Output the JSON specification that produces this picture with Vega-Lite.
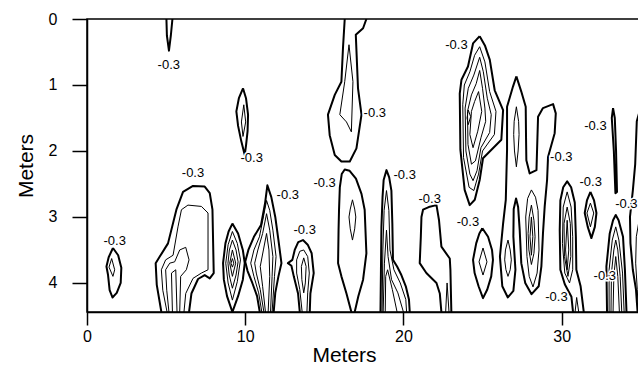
{
  "$schema": "https://vega.github.io/schema/vega-lite/v6.json",
  "width": 580,
  "height": 293,
  "autosize": {"type": "none"},
  "padding": {"left": 87, "top": 19, "right": 0, "bottom": 54},
  "background": "white",
  "config": {
    "font": "Liberation Sans",
    "view": {"stroke": "black", "strokeWidth": 1.5}
  },
  "datasets": {
    "contours": [
      {"c":"f1a","lv":-0.3,"x":1.64,"y":3.47},{"c":"f1a","lv":-0.3,"x":1.97,"y":3.58},{"c":"f1a","lv":-0.3,"x":2.17,"y":3.77},{"c":"f1a","lv":-0.3,"x":2.13,"y":4.0},{"c":"f1a","lv":-0.3,"x":1.88,"y":4.15},{"c":"f1a","lv":-0.3,"x":1.61,"y":4.22},{"c":"f1a","lv":-0.3,"x":1.43,"y":4.11},{"c":"f1a","lv":-0.3,"x":1.33,"y":3.88},{"c":"f1a","lv":-0.3,"x":1.23,"y":3.75},{"c":"f1a","lv":-0.3,"x":1.37,"y":3.61},{"c":"f1a","lv":-0.3,"x":1.64,"y":3.47},
      {"c":"f1b","lv":-0.5,"x":1.56,"y":3.63},{"c":"f1b","lv":-0.5,"x":1.75,"y":3.8},{"c":"f1b","lv":-0.5,"x":1.64,"y":3.9},{"c":"f1b","lv":-0.5,"x":1.39,"y":3.76},{"c":"f1b","lv":-0.5,"x":1.56,"y":3.63},

      {"c":"f2a","lv":-0.3,"x":4.70,"y":4.44},{"c":"f2a","lv":-0.3,"x":4.41,"y":4.03},{"c":"f2a","lv":-0.3,"x":4.34,"y":3.70},{"c":"f2a","lv":-0.3,"x":4.60,"y":3.60},{"c":"f2a","lv":-0.3,"x":5.12,"y":3.40},{"c":"f2a","lv":-0.3,"x":5.65,"y":2.89},{"c":"f2a","lv":-0.3,"x":6.07,"y":2.62},{"c":"f2a","lv":-0.3,"x":6.70,"y":2.53},{"c":"f2a","lv":-0.3,"x":7.44,"y":2.54},{"c":"f2a","lv":-0.3,"x":7.76,"y":2.64},{"c":"f2a","lv":-0.3,"x":7.93,"y":2.89},{"c":"f2a","lv":-0.3,"x":8.01,"y":3.85},{"c":"f2a","lv":-0.3,"x":7.76,"y":3.93},{"c":"f2a","lv":-0.3,"x":7.44,"y":3.88},{"c":"f2a","lv":-0.3,"x":7.02,"y":3.94},{"c":"f2a","lv":-0.3,"x":6.60,"y":4.16},{"c":"f2a","lv":-0.3,"x":6.45,"y":4.44},
      {"c":"f2b","lv":-0.5,"x":5.06,"y":4.44},{"c":"f2b","lv":-0.5,"x":4.79,"y":4.11},{"c":"f2b","lv":-0.5,"x":4.70,"y":3.80},{"c":"f2b","lv":-0.5,"x":4.97,"y":3.65},{"c":"f2b","lv":-0.5,"x":5.44,"y":3.58},{"c":"f2b","lv":-0.5,"x":5.75,"y":3.15},{"c":"f2b","lv":-0.5,"x":5.97,"y":2.89},{"c":"f2b","lv":-0.5,"x":6.38,"y":2.82},{"c":"f2b","lv":-0.5,"x":7.23,"y":2.84},{"c":"f2b","lv":-0.5,"x":7.65,"y":2.94},{"c":"f2b","lv":-0.5,"x":7.65,"y":3.80},{"c":"f2b","lv":-0.5,"x":7.23,"y":3.85},{"c":"f2b","lv":-0.5,"x":6.70,"y":3.93},{"c":"f2b","lv":-0.5,"x":6.24,"y":4.16},{"c":"f2b","lv":-0.5,"x":6.13,"y":4.44},
      {"c":"f2c","lv":-0.7,"x":5.18,"y":4.44},{"c":"f2c","lv":-0.7,"x":5.04,"y":4.11},{"c":"f2c","lv":-0.7,"x":4.97,"y":3.80},{"c":"f2c","lv":-0.7,"x":5.23,"y":3.70},{"c":"f2c","lv":-0.7,"x":5.54,"y":3.68},{"c":"f2c","lv":-0.7,"x":5.86,"y":3.50},{"c":"f2c","lv":-0.7,"x":6.24,"y":3.46},{"c":"f2c","lv":-0.7,"x":6.45,"y":3.65},{"c":"f2c","lv":-0.7,"x":6.28,"y":3.80},{"c":"f2c","lv":-0.7,"x":5.92,"y":3.90},{"c":"f2c","lv":-0.7,"x":5.86,"y":4.44},
      {"c":"f2d","lv":-0.9,"x":5.40,"y":4.44},{"c":"f2d","lv":-0.9,"x":5.34,"y":3.85},{"c":"f2d","lv":-0.9,"x":5.61,"y":3.80},{"c":"f2d","lv":-0.9,"x":5.69,"y":4.44},

      {"c":"f3a","lv":-0.3,"x":9.19,"y":3.10},{"c":"f3a","lv":-0.3,"x":9.55,"y":3.25},{"c":"f3a","lv":-0.3,"x":9.85,"y":3.50},{"c":"f3a","lv":-0.3,"x":9.97,"y":3.70},{"c":"f3a","lv":-0.3,"x":9.85,"y":3.95},{"c":"f3a","lv":-0.3,"x":9.55,"y":4.20},{"c":"f3a","lv":-0.3,"x":9.19,"y":4.44},{"c":"f3a","lv":-0.3,"x":8.85,"y":4.20},{"c":"f3a","lv":-0.3,"x":8.65,"y":3.95},{"c":"f3a","lv":-0.3,"x":8.60,"y":3.70},{"c":"f3a","lv":-0.3,"x":8.75,"y":3.40},{"c":"f3a","lv":-0.3,"x":8.95,"y":3.22},{"c":"f3a","lv":-0.3,"x":9.19,"y":3.10},
      {"c":"f3b","lv":-0.5,"x":9.19,"y":3.22},{"c":"f3b","lv":-0.5,"x":9.50,"y":3.40},{"c":"f3b","lv":-0.5,"x":9.70,"y":3.65},{"c":"f3b","lv":-0.5,"x":9.50,"y":3.98},{"c":"f3b","lv":-0.5,"x":9.19,"y":4.26},{"c":"f3b","lv":-0.5,"x":8.92,"y":4.00},{"c":"f3b","lv":-0.5,"x":8.77,"y":3.70},{"c":"f3b","lv":-0.5,"x":8.92,"y":3.42},{"c":"f3b","lv":-0.5,"x":9.19,"y":3.22},
      {"c":"f3c","lv":-0.7,"x":9.19,"y":3.35},{"c":"f3c","lv":-0.7,"x":9.42,"y":3.50},{"c":"f3c","lv":-0.7,"x":9.55,"y":3.68},{"c":"f3c","lv":-0.7,"x":9.42,"y":3.88},{"c":"f3c","lv":-0.7,"x":9.19,"y":4.08},{"c":"f3c","lv":-0.7,"x":8.99,"y":3.88},{"c":"f3c","lv":-0.7,"x":8.91,"y":3.70},{"c":"f3c","lv":-0.7,"x":9.00,"y":3.50},{"c":"f3c","lv":-0.7,"x":9.19,"y":3.35},
      {"c":"f3d","lv":-0.9,"x":9.19,"y":3.50},{"c":"f3d","lv":-0.9,"x":9.40,"y":3.70},{"c":"f3d","lv":-0.9,"x":9.19,"y":3.90},{"c":"f3d","lv":-0.9,"x":9.02,"y":3.70},{"c":"f3d","lv":-0.9,"x":9.19,"y":3.50},
      {"c":"f3e","lv":-1.1,"x":9.19,"y":3.63},{"c":"f3e","lv":-1.1,"x":9.28,"y":3.70},{"c":"f3e","lv":-1.1,"x":9.19,"y":3.76},{"c":"f3e","lv":-1.1,"x":9.10,"y":3.70},{"c":"f3e","lv":-1.1,"x":9.19,"y":3.63},

      {"c":"f4a","lv":-0.3,"x":10.92,"y":4.44},{"c":"f4a","lv":-0.3,"x":10.75,"y":4.2},{"c":"f4a","lv":-0.3,"x":10.45,"y":4.0},{"c":"f4a","lv":-0.3,"x":10.15,"y":3.82},{"c":"f4a","lv":-0.3,"x":10.0,"y":3.68},{"c":"f4a","lv":-0.3,"x":10.2,"y":3.5},{"c":"f4a","lv":-0.3,"x":10.55,"y":3.3},{"c":"f4a","lv":-0.3,"x":11.0,"y":3.12},{"c":"f4a","lv":-0.3,"x":11.25,"y":2.8},{"c":"f4a","lv":-0.3,"x":11.40,"y":2.52},{"c":"f4a","lv":-0.3,"x":11.65,"y":2.7},{"c":"f4a","lv":-0.3,"x":11.9,"y":3.0},{"c":"f4a","lv":-0.3,"x":12.1,"y":3.35},{"c":"f4a","lv":-0.3,"x":12.29,"y":3.70},{"c":"f4a","lv":-0.3,"x":12.1,"y":3.9},{"c":"f4a","lv":-0.3,"x":11.9,"y":4.15},{"c":"f4a","lv":-0.3,"x":11.80,"y":4.44},
      {"c":"f4b","lv":-0.5,"x":11.05,"y":4.44},{"c":"f4b","lv":-0.5,"x":10.85,"y":4.15},{"c":"f4b","lv":-0.5,"x":10.55,"y":3.9},{"c":"f4b","lv":-0.5,"x":10.35,"y":3.7},{"c":"f4b","lv":-0.5,"x":10.55,"y":3.5},{"c":"f4b","lv":-0.5,"x":10.9,"y":3.3},{"c":"f4b","lv":-0.5,"x":11.15,"y":3.0},{"c":"f4b","lv":-0.5,"x":11.35,"y":2.75},{"c":"f4b","lv":-0.5,"x":11.55,"y":2.9},{"c":"f4b","lv":-0.5,"x":11.75,"y":3.2},{"c":"f4b","lv":-0.5,"x":11.95,"y":3.6},{"c":"f4b","lv":-0.5,"x":11.85,"y":3.9},{"c":"f4b","lv":-0.5,"x":11.7,"y":4.44},
      {"c":"f4c","lv":-0.7,"x":11.18,"y":4.44},{"c":"f4c","lv":-0.7,"x":10.95,"y":4.1},{"c":"f4c","lv":-0.7,"x":10.7,"y":3.85},{"c":"f4c","lv":-0.7,"x":10.6,"y":3.7},{"c":"f4c","lv":-0.7,"x":10.8,"y":3.5},{"c":"f4c","lv":-0.7,"x":11.1,"y":3.25},{"c":"f4c","lv":-0.7,"x":11.35,"y":2.95},{"c":"f4c","lv":-0.7,"x":11.55,"y":3.2},{"c":"f4c","lv":-0.7,"x":11.75,"y":3.6},{"c":"f4c","lv":-0.7,"x":11.7,"y":3.9},{"c":"f4c","lv":-0.7,"x":11.6,"y":4.44},
      {"c":"f4d","lv":-0.9,"x":11.28,"y":4.44},{"c":"f4d","lv":-0.9,"x":11.1,"y":4.05},{"c":"f4d","lv":-0.9,"x":10.95,"y":3.75},{"c":"f4d","lv":-0.9,"x":11.15,"y":3.5},{"c":"f4d","lv":-0.9,"x":11.35,"y":3.25},{"c":"f4d","lv":-0.9,"x":11.5,"y":3.5},{"c":"f4d","lv":-0.9,"x":11.55,"y":3.9},{"c":"f4d","lv":-0.9,"x":11.45,"y":4.44},

      {"c":"f5a","lv":-0.3,"x":13.45,"y":4.44},{"c":"f5a","lv":-0.3,"x":13.34,"y":4.16},{"c":"f5a","lv":-0.3,"x":13.07,"y":3.90},{"c":"f5a","lv":-0.3,"x":12.92,"y":3.74},{"c":"f5a","lv":-0.3,"x":12.70,"y":3.70},{"c":"f5a","lv":-0.3,"x":12.98,"y":3.65},{"c":"f5a","lv":-0.3,"x":13.13,"y":3.50},{"c":"f5a","lv":-0.3,"x":13.35,"y":3.38},{"c":"f5a","lv":-0.3,"x":13.65,"y":3.35},{"c":"f5a","lv":-0.3,"x":13.95,"y":3.42},{"c":"f5a","lv":-0.3,"x":14.20,"y":3.55},{"c":"f5a","lv":-0.3,"x":14.33,"y":3.85},{"c":"f5a","lv":-0.3,"x":14.12,"y":4.16},{"c":"f5a","lv":-0.3,"x":14.08,"y":4.44},
      {"c":"f5b","lv":-0.5,"x":13.6,"y":4.44},{"c":"f5b","lv":-0.5,"x":13.45,"y":4.1},{"c":"f5b","lv":-0.5,"x":13.25,"y":3.85},{"c":"f5b","lv":-0.5,"x":13.25,"y":3.65},{"c":"f5b","lv":-0.5,"x":13.45,"y":3.52},{"c":"f5b","lv":-0.5,"x":13.7,"y":3.5},{"c":"f5b","lv":-0.5,"x":13.95,"y":3.6},{"c":"f5b","lv":-0.5,"x":14.05,"y":3.85},{"c":"f5b","lv":-0.5,"x":13.95,"y":4.15},{"c":"f5b","lv":-0.5,"x":13.9,"y":4.44},
      {"c":"f5c","lv":-0.7,"x":13.7,"y":3.62},{"c":"f5c","lv":-0.7,"x":13.85,"y":3.75},{"c":"f5c","lv":-0.7,"x":13.8,"y":4.0},{"c":"f5c","lv":-0.7,"x":13.7,"y":4.15},{"c":"f5c","lv":-0.7,"x":13.58,"y":3.95},{"c":"f5c","lv":-0.7,"x":13.55,"y":3.75},{"c":"f5c","lv":-0.7,"x":13.7,"y":3.62},

      {"c":"f6a","lv":-0.3,"x":16.71,"y":4.44},{"c":"f6a","lv":-0.3,"x":16.40,"y":4.16},{"c":"f6a","lv":-0.3,"x":16.08,"y":3.90},{"c":"f6a","lv":-0.3,"x":15.87,"y":3.70},{"c":"f6a","lv":-0.3,"x":15.9,"y":3.2},{"c":"f6a","lv":-0.3,"x":15.93,"y":2.89},{"c":"f6a","lv":-0.3,"x":15.98,"y":2.55},{"c":"f6a","lv":-0.3,"x":16.1,"y":2.35},{"c":"f6a","lv":-0.3,"x":16.29,"y":2.28},{"c":"f6a","lv":-0.3,"x":16.6,"y":2.3},{"c":"f6a","lv":-0.3,"x":17.0,"y":2.42},{"c":"f6a","lv":-0.3,"x":17.35,"y":2.65},{"c":"f6a","lv":-0.3,"x":17.55,"y":2.89},{"c":"f6a","lv":-0.3,"x":17.66,"y":3.55},{"c":"f6a","lv":-0.3,"x":17.45,"y":3.95},{"c":"f6a","lv":-0.3,"x":17.15,"y":4.2},{"c":"f6a","lv":-0.3,"x":16.92,"y":4.44},
      {"c":"f6b","lv":-0.5,"x":16.78,"y":2.74},{"c":"f6b","lv":-0.5,"x":16.92,"y":2.88},{"c":"f6b","lv":-0.5,"x":16.99,"y":3.0},{"c":"f6b","lv":-0.5,"x":16.92,"y":3.18},{"c":"f6b","lv":-0.5,"x":16.78,"y":3.35},{"c":"f6b","lv":-0.5,"x":16.64,"y":3.18},{"c":"f6b","lv":-0.5,"x":16.56,"y":3.0},{"c":"f6b","lv":-0.5,"x":16.64,"y":2.88},{"c":"f6b","lv":-0.5,"x":16.78,"y":2.74},

      {"c":"f7a","lv":-0.3,"x":16.29,"y":0},{"c":"f7a","lv":-0.3,"x":16.18,"y":0.44},{"c":"f7a","lv":-0.3,"x":16.08,"y":0.95},{"c":"f7a","lv":-0.3,"x":15.66,"y":1.15},{"c":"f7a","lv":-0.3,"x":15.23,"y":1.45},{"c":"f7a","lv":-0.3,"x":15.34,"y":1.76},{"c":"f7a","lv":-0.3,"x":15.66,"y":2.06},{"c":"f7a","lv":-0.3,"x":16.08,"y":2.16},{"c":"f7a","lv":-0.3,"x":16.61,"y":2.16},{"c":"f7a","lv":-0.3,"x":17.03,"y":1.96},{"c":"f7a","lv":-0.3,"x":17.35,"y":1.45},{"c":"f7a","lv":-0.3,"x":17.13,"y":1.05},{"c":"f7a","lv":-0.3,"x":16.99,"y":0.24},{"c":"f7a","lv":-0.3,"x":17.45,"y":0.14},{"c":"f7a","lv":-0.3,"x":17.66,"y":0},
      {"c":"f7b","lv":-0.5,"x":16.56,"y":0.39},{"c":"f7b","lv":-0.5,"x":16.81,"y":0.95},{"c":"f7b","lv":-0.5,"x":16.71,"y":1.71},{"c":"f7b","lv":-0.5,"x":16.40,"y":1.56},{"c":"f7b","lv":-0.5,"x":15.98,"y":1.45},{"c":"f7b","lv":-0.5,"x":16.29,"y":0.95},{"c":"f7b","lv":-0.5,"x":16.56,"y":0.39},

      {"c":"f8a","lv":-0.3,"x":5.02,"y":0},{"c":"f8a","lv":-0.3,"x":5.05,"y":0.25},{"c":"f8a","lv":-0.3,"x":5.18,"y":0.48},{"c":"f8a","lv":-0.3,"x":5.30,"y":0.25},{"c":"f8a","lv":-0.3,"x":5.40,"y":0},

      {"c":"f9a","lv":-0.3,"x":9.86,"y":1.05},{"c":"f9a","lv":-0.3,"x":10.05,"y":1.2},{"c":"f9a","lv":-0.3,"x":10.18,"y":1.45},{"c":"f9a","lv":-0.3,"x":10.15,"y":1.7},{"c":"f9a","lv":-0.3,"x":10.05,"y":1.92},{"c":"f9a","lv":-0.3,"x":9.97,"y":2.06},{"c":"f9a","lv":-0.3,"x":9.75,"y":1.85},{"c":"f9a","lv":-0.3,"x":9.55,"y":1.62},{"c":"f9a","lv":-0.3,"x":9.44,"y":1.40},{"c":"f9a","lv":-0.3,"x":9.6,"y":1.2},{"c":"f9a","lv":-0.3,"x":9.86,"y":1.05},
      {"c":"f9b","lv":-0.5,"x":9.91,"y":1.30},{"c":"f9b","lv":-0.5,"x":10.03,"y":1.56},{"c":"f9b","lv":-0.5,"x":9.86,"y":1.78},{"c":"f9b","lv":-0.5,"x":9.76,"y":1.56},{"c":"f9b","lv":-0.5,"x":9.91,"y":1.30},

      {"c":"f10a","lv":-0.3,"x":18.55,"y":4.44},{"c":"f10a","lv":-0.3,"x":18.58,"y":3.8},{"c":"f10a","lv":-0.3,"x":18.61,"y":3.15},{"c":"f10a","lv":-0.3,"x":18.68,"y":2.7},{"c":"f10a","lv":-0.3,"x":18.75,"y":2.44},{"c":"f10a","lv":-0.3,"x":18.93,"y":2.29},{"c":"f10a","lv":-0.3,"x":19.1,"y":2.4},{"c":"f10a","lv":-0.3,"x":19.24,"y":2.6},{"c":"f10a","lv":-0.3,"x":19.3,"y":3.1},{"c":"f10a","lv":-0.3,"x":19.34,"y":3.65},{"c":"f10a","lv":-0.3,"x":19.6,"y":3.75},{"c":"f10a","lv":-0.3,"x":19.87,"y":3.88},{"c":"f10a","lv":-0.3,"x":20.15,"y":4.05},{"c":"f10a","lv":-0.3,"x":20.35,"y":4.25},{"c":"f10a","lv":-0.3,"x":20.40,"y":4.44},
      {"c":"f10b","lv":-0.5,"x":18.65,"y":4.44},{"c":"f10b","lv":-0.5,"x":18.7,"y":3.5},{"c":"f10b","lv":-0.5,"x":18.78,"y":2.9},{"c":"f10b","lv":-0.5,"x":18.93,"y":2.6},{"c":"f10b","lv":-0.5,"x":19.08,"y":2.9},{"c":"f10b","lv":-0.5,"x":19.15,"y":3.5},{"c":"f10b","lv":-0.5,"x":19.4,"y":3.8},{"c":"f10b","lv":-0.5,"x":19.8,"y":4.0},{"c":"f10b","lv":-0.5,"x":20.15,"y":4.25},{"c":"f10b","lv":-0.5,"x":20.2,"y":4.44},
      {"c":"f10c","lv":-0.7,"x":18.72,"y":4.44},{"c":"f10c","lv":-0.7,"x":18.8,"y":3.7},{"c":"f10c","lv":-0.7,"x":18.93,"y":3.2},{"c":"f10c","lv":-0.7,"x":19.03,"y":3.6},{"c":"f10c","lv":-0.7,"x":19.25,"y":3.95},{"c":"f10c","lv":-0.7,"x":19.65,"y":4.15},{"c":"f10c","lv":-0.7,"x":20.0,"y":4.44},
      {"c":"f10d","lv":-0.9,"x":18.85,"y":4.44},{"c":"f10d","lv":-0.9,"x":18.88,"y":3.9},{"c":"f10d","lv":-0.9,"x":19.0,"y":3.8},{"c":"f10d","lv":-0.9,"x":19.3,"y":4.1},{"c":"f10d","lv":-0.9,"x":19.6,"y":4.44},

      {"c":"f11a","lv":-0.3,"x":22.40,"y":4.44},{"c":"f11a","lv":-0.3,"x":22.30,"y":4.16},{"c":"f11a","lv":-0.3,"x":22.09,"y":4.0},{"c":"f11a","lv":-0.3,"x":21.45,"y":3.85},{"c":"f11a","lv":-0.3,"x":21.03,"y":3.70},{"c":"f11a","lv":-0.3,"x":21.1,"y":3.3},{"c":"f11a","lv":-0.3,"x":21.14,"y":3.0},{"c":"f11a","lv":-0.3,"x":21.24,"y":2.89},{"c":"f11a","lv":-0.3,"x":21.6,"y":2.85},{"c":"f11a","lv":-0.3,"x":22.09,"y":2.82},{"c":"f11a","lv":-0.3,"x":22.25,"y":3.05},{"c":"f11a","lv":-0.3,"x":22.40,"y":3.45},{"c":"f11a","lv":-0.3,"x":22.93,"y":3.63},{"c":"f11a","lv":-0.3,"x":22.97,"y":3.80},{"c":"f11a","lv":-0.3,"x":23.03,"y":4.44},
      {"c":"f11b","lv":-0.5,"x":22.67,"y":4.44},{"c":"f11b","lv":-0.5,"x":22.76,"y":4.0},{"c":"f11b","lv":-0.5,"x":22.88,"y":4.44},

      {"c":"f12a","lv":-0.3,"x":24.99,"y":3.17},{"c":"f12a","lv":-0.3,"x":25.35,"y":3.3},{"c":"f12a","lv":-0.3,"x":25.6,"y":3.5},{"c":"f12a","lv":-0.3,"x":25.66,"y":3.65},{"c":"f12a","lv":-0.3,"x":25.55,"y":3.9},{"c":"f12a","lv":-0.3,"x":25.3,"y":4.1},{"c":"f12a","lv":-0.3,"x":25.03,"y":4.23},{"c":"f12a","lv":-0.3,"x":24.75,"y":4.05},{"c":"f12a","lv":-0.3,"x":24.5,"y":3.85},{"c":"f12a","lv":-0.3,"x":24.40,"y":3.65},{"c":"f12a","lv":-0.3,"x":24.6,"y":3.4},{"c":"f12a","lv":-0.3,"x":24.8,"y":3.25},{"c":"f12a","lv":-0.3,"x":24.99,"y":3.17},
      {"c":"f12b","lv":-0.5,"x":25.03,"y":3.47},{"c":"f12b","lv":-0.5,"x":25.28,"y":3.68},{"c":"f12b","lv":-0.5,"x":25.03,"y":3.88},{"c":"f12b","lv":-0.5,"x":24.78,"y":3.68},{"c":"f12b","lv":-0.5,"x":25.03,"y":3.47},

      {"c":"f13a","lv":-0.3,"x":24.82,"y":0.26},{"c":"f13a","lv":-0.3,"x":25.15,"y":0.4},{"c":"f13a","lv":-0.3,"x":25.46,"y":0.62},{"c":"f13a","lv":-0.3,"x":25.77,"y":1.08},{"c":"f13a","lv":-0.3,"x":26.30,"y":1.38},{"c":"f13a","lv":-0.3,"x":26.19,"y":1.83},{"c":"f13a","lv":-0.3,"x":25.03,"y":2.11},{"c":"f13a","lv":-0.3,"x":24.82,"y":2.44},{"c":"f13a","lv":-0.3,"x":24.51,"y":2.74},{"c":"f13a","lv":-0.3,"x":24.19,"y":2.82},{"c":"f13a","lv":-0.3,"x":23.87,"y":2.59},{"c":"f13a","lv":-0.3,"x":23.60,"y":1.98},{"c":"f13a","lv":-0.3,"x":23.56,"y":1.13},{"c":"f13a","lv":-0.3,"x":23.67,"y":0.92},{"c":"f13a","lv":-0.3,"x":24.08,"y":0.72},{"c":"f13a","lv":-0.3,"x":24.40,"y":0.37},{"c":"f13a","lv":-0.3,"x":24.82,"y":0.26},
      {"c":"f13b","lv":-0.5,"x":24.82,"y":0.42},{"c":"f13b","lv":-0.5,"x":25.15,"y":0.65},{"c":"f13b","lv":-0.5,"x":25.45,"y":1.1},{"c":"f13b","lv":-0.5,"x":25.85,"y":1.4},{"c":"f13b","lv":-0.5,"x":25.75,"y":1.75},{"c":"f13b","lv":-0.5,"x":25.0,"y":2.0},{"c":"f13b","lv":-0.5,"x":24.75,"y":2.35},{"c":"f13b","lv":-0.5,"x":24.45,"y":2.6},{"c":"f13b","lv":-0.5,"x":24.15,"y":2.55},{"c":"f13b","lv":-0.5,"x":23.8,"y":2.1},{"c":"f13b","lv":-0.5,"x":23.75,"y":1.3},{"c":"f13b","lv":-0.5,"x":23.85,"y":1.0},{"c":"f13b","lv":-0.5,"x":24.2,"y":0.8},{"c":"f13b","lv":-0.5,"x":24.5,"y":0.55},{"c":"f13b","lv":-0.5,"x":24.82,"y":0.42},
      {"c":"f13c","lv":-0.7,"x":24.82,"y":0.58},{"c":"f13c","lv":-0.7,"x":25.05,"y":0.8},{"c":"f13c","lv":-0.7,"x":25.3,"y":1.2},{"c":"f13c","lv":-0.7,"x":25.55,"y":1.45},{"c":"f13c","lv":-0.7,"x":25.45,"y":1.72},{"c":"f13c","lv":-0.7,"x":24.9,"y":1.95},{"c":"f13c","lv":-0.7,"x":24.65,"y":2.3},{"c":"f13c","lv":-0.7,"x":24.4,"y":2.45},{"c":"f13c","lv":-0.7,"x":24.2,"y":2.35},{"c":"f13c","lv":-0.7,"x":23.95,"y":2.0},{"c":"f13c","lv":-0.7,"x":23.9,"y":1.35},{"c":"f13c","lv":-0.7,"x":24.1,"y":1.05},{"c":"f13c","lv":-0.7,"x":24.45,"y":0.85},{"c":"f13c","lv":-0.7,"x":24.82,"y":0.58},
      {"c":"f13d","lv":-0.9,"x":24.82,"y":0.78},{"c":"f13d","lv":-0.9,"x":25.0,"y":1.05},{"c":"f13d","lv":-0.9,"x":25.15,"y":1.35},{"c":"f13d","lv":-0.9,"x":25.2,"y":1.55},{"c":"f13d","lv":-0.9,"x":24.9,"y":1.8},{"c":"f13d","lv":-0.9,"x":24.55,"y":2.15},{"c":"f13d","lv":-0.9,"x":24.3,"y":2.2},{"c":"f13d","lv":-0.9,"x":24.08,"y":1.9},{"c":"f13d","lv":-0.9,"x":24.05,"y":1.4},{"c":"f13d","lv":-0.9,"x":24.3,"y":1.15},{"c":"f13d","lv":-0.9,"x":24.6,"y":0.98},{"c":"f13d","lv":-0.9,"x":24.82,"y":0.78},
      {"c":"f13e","lv":-1.1,"x":24.75,"y":1.1},{"c":"f13e","lv":-1.1,"x":24.95,"y":1.4},{"c":"f13e","lv":-1.1,"x":24.7,"y":1.7},{"c":"f13e","lv":-1.1,"x":24.4,"y":1.95},{"c":"f13e","lv":-1.1,"x":24.2,"y":1.75},{"c":"f13e","lv":-1.1,"x":24.3,"y":1.4},{"c":"f13e","lv":-1.1,"x":24.5,"y":1.25},{"c":"f13e","lv":-1.1,"x":24.75,"y":1.1},
      {"c":"f13f","lv":-1.3,"x":24.1,"y":1.38},{"c":"f13f","lv":-1.3,"x":24.25,"y":1.48},{"c":"f13f","lv":-1.3,"x":24.1,"y":1.6},{"c":"f13f","lv":-1.3,"x":24.02,"y":1.5},{"c":"f13f","lv":-1.3,"x":24.1,"y":1.38},

      {"c":"f14a","lv":-0.3,"x":27.14,"y":0.87},{"c":"f14a","lv":-0.3,"x":27.45,"y":1.1},{"c":"f14a","lv":-0.3,"x":27.73,"y":1.33},{"c":"f14a","lv":-0.3,"x":27.75,"y":1.8},{"c":"f14a","lv":-0.3,"x":27.77,"y":2.14},{"c":"f14a","lv":-0.3,"x":27.98,"y":2.34},{"c":"f14a","lv":-0.3,"x":28.41,"y":2.29},{"c":"f14a","lv":-0.3,"x":28.51,"y":1.48},{"c":"f14a","lv":-0.3,"x":28.82,"y":1.35},{"c":"f14a","lv":-0.3,"x":29.46,"y":1.29},{"c":"f14a","lv":-0.3,"x":29.63,"y":1.43},{"c":"f14a","lv":-0.3,"x":29.56,"y":1.73},{"c":"f14a","lv":-0.3,"x":29.14,"y":2.09},{"c":"f14a","lv":-0.3,"x":29.08,"y":2.44},{"c":"f14a","lv":-0.3,"x":28.93,"y":2.84},{"c":"f14a","lv":-0.3,"x":28.82,"y":3.25},{"c":"f14a","lv":-0.3,"x":28.72,"y":3.75},{"c":"f14a","lv":-0.3,"x":28.55,"y":4.05},{"c":"f14a","lv":-0.3,"x":28.1,"y":4.17},{"c":"f14a","lv":-0.3,"x":27.7,"y":4.0},{"c":"f14a","lv":-0.3,"x":27.45,"y":3.7},{"c":"f14a","lv":-0.3,"x":27.35,"y":3.2},{"c":"f14a","lv":-0.3,"x":27.25,"y":2.85},{"c":"f14a","lv":-0.3,"x":27.12,"y":2.72},{"c":"f14a","lv":-0.3,"x":26.97,"y":2.88},{"c":"f14a","lv":-0.3,"x":26.95,"y":3.3},{"c":"f14a","lv":-0.3,"x":27.08,"y":3.8},{"c":"f14a","lv":-0.3,"x":26.95,"y":4.12},{"c":"f14a","lv":-0.3,"x":26.6,"y":4.22},{"c":"f14a","lv":-0.3,"x":26.25,"y":4.05},{"c":"f14a","lv":-0.3,"x":26.1,"y":3.6},{"c":"f14a","lv":-0.3,"x":26.3,"y":3.1},{"c":"f14a","lv":-0.3,"x":26.47,"y":2.74},{"c":"f14a","lv":-0.3,"x":26.55,"y":1.98},{"c":"f14a","lv":-0.3,"x":26.55,"y":1.33},{"c":"f14a","lv":-0.3,"x":26.93,"y":1.02},{"c":"f14a","lv":-0.3,"x":27.14,"y":0.87},
      {"c":"f14b","lv":-0.5,"x":27.14,"y":1.33},{"c":"f14b","lv":-0.5,"x":27.28,"y":1.55},{"c":"f14b","lv":-0.5,"x":27.31,"y":1.75},{"c":"f14b","lv":-0.5,"x":27.25,"y":2.0},{"c":"f14b","lv":-0.5,"x":27.14,"y":2.24},{"c":"f14b","lv":-0.5,"x":27.02,"y":2.0},{"c":"f14b","lv":-0.5,"x":26.97,"y":1.75},{"c":"f14b","lv":-0.5,"x":27.0,"y":1.55},{"c":"f14b","lv":-0.5,"x":27.14,"y":1.33},
      {"c":"f14c","lv":-0.5,"x":26.61,"y":3.35},{"c":"f14c","lv":-0.5,"x":26.75,"y":3.5},{"c":"f14c","lv":-0.5,"x":26.82,"y":3.65},{"c":"f14c","lv":-0.5,"x":26.75,"y":3.8},{"c":"f14c","lv":-0.5,"x":26.61,"y":3.9},{"c":"f14c","lv":-0.5,"x":26.48,"y":3.8},{"c":"f14c","lv":-0.5,"x":26.40,"y":3.65},{"c":"f14c","lv":-0.5,"x":26.45,"y":3.5},{"c":"f14c","lv":-0.5,"x":26.61,"y":3.35},
      {"c":"f14d","lv":-0.5,"x":28.09,"y":2.59},{"c":"f14d","lv":-0.5,"x":28.35,"y":2.7},{"c":"f14d","lv":-0.5,"x":28.51,"y":2.9},{"c":"f14d","lv":-0.5,"x":28.57,"y":3.5},{"c":"f14d","lv":-0.5,"x":28.45,"y":3.85},{"c":"f14d","lv":-0.5,"x":28.19,"y":4.06},{"c":"f14d","lv":-0.5,"x":27.95,"y":3.9},{"c":"f14d","lv":-0.5,"x":27.81,"y":3.6},{"c":"f14d","lv":-0.5,"x":27.73,"y":3.0},{"c":"f14d","lv":-0.5,"x":27.85,"y":2.72},{"c":"f14d","lv":-0.5,"x":28.09,"y":2.59},
      {"c":"f14e","lv":-0.7,"x":28.09,"y":2.82},{"c":"f14e","lv":-0.7,"x":28.25,"y":3.05},{"c":"f14e","lv":-0.7,"x":28.32,"y":3.3},{"c":"f14e","lv":-0.7,"x":28.25,"y":3.55},{"c":"f14e","lv":-0.7,"x":28.09,"y":3.72},{"c":"f14e","lv":-0.7,"x":27.93,"y":3.5},{"c":"f14e","lv":-0.7,"x":27.88,"y":3.25},{"c":"f14e","lv":-0.7,"x":27.95,"y":3.0},{"c":"f14e","lv":-0.7,"x":28.09,"y":2.82},
      {"c":"f14f","lv":-0.9,"x":28.09,"y":3.0},{"c":"f14f","lv":-0.9,"x":28.18,"y":3.3},{"c":"f14f","lv":-0.9,"x":28.09,"y":3.58},{"c":"f14f","lv":-0.9,"x":28.0,"y":3.3},{"c":"f14f","lv":-0.9,"x":28.09,"y":3.0},

      {"c":"f15a","lv":-0.3,"x":30.72,"y":4.44},{"c":"f15a","lv":-0.3,"x":30.62,"y":4.21},{"c":"f15a","lv":-0.3,"x":30.2,"y":4.02},{"c":"f15a","lv":-0.3,"x":29.92,"y":3.8},{"c":"f15a","lv":-0.3,"x":29.88,"y":3.2},{"c":"f15a","lv":-0.3,"x":29.92,"y":2.75},{"c":"f15a","lv":-0.3,"x":30.1,"y":2.55},{"c":"f15a","lv":-0.3,"x":30.35,"y":2.46},{"c":"f15a","lv":-0.3,"x":30.6,"y":2.55},{"c":"f15a","lv":-0.3,"x":30.83,"y":2.78},{"c":"f15a","lv":-0.3,"x":30.9,"y":3.3},{"c":"f15a","lv":-0.3,"x":30.93,"y":3.8},{"c":"f15a","lv":-0.3,"x":31.2,"y":4.05},{"c":"f15a","lv":-0.3,"x":31.40,"y":4.44},
      {"c":"f15b","lv":-0.5,"x":30.35,"y":2.62},{"c":"f15b","lv":-0.5,"x":30.6,"y":2.85},{"c":"f15b","lv":-0.5,"x":30.7,"y":3.3},{"c":"f15b","lv":-0.5,"x":30.7,"y":3.8},{"c":"f15b","lv":-0.5,"x":30.5,"y":4.0},{"c":"f15b","lv":-0.5,"x":30.2,"y":3.85},{"c":"f15b","lv":-0.5,"x":30.05,"y":3.4},{"c":"f15b","lv":-0.5,"x":30.1,"y":2.85},{"c":"f15b","lv":-0.5,"x":30.35,"y":2.62},
      {"c":"f15c","lv":-0.7,"x":30.35,"y":2.85},{"c":"f15c","lv":-0.7,"x":30.55,"y":3.1},{"c":"f15c","lv":-0.7,"x":30.58,"y":3.6},{"c":"f15c","lv":-0.7,"x":30.4,"y":3.9},{"c":"f15c","lv":-0.7,"x":30.18,"y":3.6},{"c":"f15c","lv":-0.7,"x":30.15,"y":3.1},{"c":"f15c","lv":-0.7,"x":30.35,"y":2.85},
      {"c":"f15d","lv":-0.9,"x":30.35,"y":3.05},{"c":"f15d","lv":-0.9,"x":30.45,"y":3.5},{"c":"f15d","lv":-0.9,"x":30.35,"y":3.8},{"c":"f15d","lv":-0.9,"x":30.25,"y":3.5},{"c":"f15d","lv":-0.9,"x":30.35,"y":3.05},
      {"c":"f15e","lv":-0.5,"x":30.85,"y":4.44},{"c":"f15e","lv":-0.5,"x":30.95,"y":4.22},{"c":"f15e","lv":-0.5,"x":31.08,"y":4.44},

      {"c":"f16a","lv":-0.3,"x":31.82,"y":2.62},{"c":"f16a","lv":-0.3,"x":32.05,"y":2.75},{"c":"f16a","lv":-0.3,"x":32.20,"y":2.94},{"c":"f16a","lv":-0.3,"x":32.1,"y":3.15},{"c":"f16a","lv":-0.3,"x":31.88,"y":3.32},{"c":"f16a","lv":-0.3,"x":31.65,"y":3.15},{"c":"f16a","lv":-0.3,"x":31.46,"y":2.94},{"c":"f16a","lv":-0.3,"x":31.6,"y":2.75},{"c":"f16a","lv":-0.3,"x":31.82,"y":2.62},
      {"c":"f16b","lv":-0.5,"x":31.82,"y":2.79},{"c":"f16b","lv":-0.5,"x":32.03,"y":2.94},{"c":"f16b","lv":-0.5,"x":31.82,"y":3.15},{"c":"f16b","lv":-0.5,"x":31.6,"y":2.94},{"c":"f16b","lv":-0.5,"x":31.82,"y":2.79},

      {"c":"f17a","lv":-0.3,"x":33.25,"y":1.35},{"c":"f17a","lv":-0.3,"x":33.36,"y":1.5},{"c":"f17a","lv":-0.3,"x":33.44,"y":2.0},{"c":"f17a","lv":-0.3,"x":33.5,"y":2.62},{"c":"f17a","lv":-0.3,"x":33.4,"y":2.64},{"c":"f17a","lv":-0.3,"x":33.3,"y":2.0},{"c":"f17a","lv":-0.3,"x":33.17,"y":1.5},{"c":"f17a","lv":-0.3,"x":33.25,"y":1.35},

      {"c":"f18a","lv":-0.3,"x":32.87,"y":4.44},{"c":"f18a","lv":-0.3,"x":32.83,"y":3.75},{"c":"f18a","lv":-0.3,"x":33.04,"y":3.25},{"c":"f18a","lv":-0.3,"x":33.25,"y":3.05},{"c":"f18a","lv":-0.3,"x":33.42,"y":2.97},{"c":"f18a","lv":-0.3,"x":33.6,"y":3.05},{"c":"f18a","lv":-0.3,"x":33.88,"y":3.3},{"c":"f18a","lv":-0.3,"x":34.0,"y":3.8},{"c":"f18a","lv":-0.3,"x":34.1,"y":4.44},
      {"c":"f18b","lv":-0.5,"x":33.0,"y":4.44},{"c":"f18b","lv":-0.5,"x":33.0,"y":3.8},{"c":"f18b","lv":-0.5,"x":33.2,"y":3.35},{"c":"f18b","lv":-0.5,"x":33.42,"y":3.15},{"c":"f18b","lv":-0.5,"x":33.62,"y":3.35},{"c":"f18b","lv":-0.5,"x":33.85,"y":3.85},{"c":"f18b","lv":-0.5,"x":33.95,"y":4.44},
      {"c":"f18c","lv":-0.7,"x":33.12,"y":4.44},{"c":"f18c","lv":-0.7,"x":33.15,"y":3.85},{"c":"f18c","lv":-0.7,"x":33.3,"y":3.5},{"c":"f18c","lv":-0.7,"x":33.42,"y":3.35},{"c":"f18c","lv":-0.7,"x":33.55,"y":3.5},{"c":"f18c","lv":-0.7,"x":33.7,"y":3.9},{"c":"f18c","lv":-0.7,"x":33.8,"y":4.44},
      {"c":"f18d","lv":-0.9,"x":33.25,"y":4.44},{"c":"f18d","lv":-0.9,"x":33.3,"y":3.9},{"c":"f18d","lv":-0.9,"x":33.42,"y":3.6},{"c":"f18d","lv":-0.9,"x":33.55,"y":3.9},{"c":"f18d","lv":-0.9,"x":33.65,"y":4.44},

      {"c":"f19a","lv":-0.3,"x":34.95,"y":1.38},{"c":"f19a","lv":-0.3,"x":34.75,"y":1.55},{"c":"f19a","lv":-0.3,"x":34.65,"y":2.2},{"c":"f19a","lv":-0.3,"x":34.5,"y":2.6},{"c":"f19a","lv":-0.3,"x":34.32,"y":3.0},{"c":"f19a","lv":-0.3,"x":34.35,"y":3.4},{"c":"f19a","lv":-0.3,"x":34.5,"y":3.8},{"c":"f19a","lv":-0.3,"x":34.7,"y":4.1},{"c":"f19a","lv":-0.3,"x":34.8,"y":4.44},
      {"c":"f19b","lv":-0.5,"x":35.0,"y":2.9},{"c":"f19b","lv":-0.5,"x":34.72,"y":3.3},{"c":"f19b","lv":-0.5,"x":34.68,"y":3.7},{"c":"f19b","lv":-0.5,"x":34.78,"y":4.1},{"c":"f19b","lv":-0.5,"x":34.85,"y":4.44}
    ],
    "labels": [
      {"x":5.17,"y":0.70,"t":"-0.3"},
      {"x":1.75,"y":3.37,"t":"-0.3"},
      {"x":6.70,"y":2.34,"t":"-0.3"},
      {"x":10.41,"y":2.11,"t":"-0.3"},
      {"x":12.69,"y":2.67,"t":"-0.3"},
      {"x":13.76,"y":3.20,"t":"-0.3"},
      {"x":15.02,"y":2.48,"t":"-0.3"},
      {"x":18.19,"y":1.43,"t":"-0.3"},
      {"x":20.08,"y":2.36,"t":"-0.3"},
      {"x":21.66,"y":2.73,"t":"-0.3"},
      {"x":23.35,"y":0.39,"t":"-0.3"},
      {"x":24.08,"y":3.07,"t":"-0.3"},
      {"x":29.98,"y":2.09,"t":"-0.3"},
      {"x":31.84,"y":2.47,"t":"-0.3"},
      {"x":32.14,"y":1.62,"t":"-0.3"},
      {"x":29.67,"y":4.22,"t":"-0.3"},
      {"x":32.73,"y":3.90,"t":"-0.3"},
      {"x":34.09,"y":2.80,"t":"-0.3"}
    ]
  },
  "layer": [
    {
      "data": {"name": "contours"},
      "mark": {"type": "line", "color": "black", "clip": true, "strokeJoin": "round"},
      "encoding": {
        "x": {
          "field": "x", "type": "quantitative",
          "scale": {"domain": [0, 36.66], "nice": false, "zero": false},
          "axis": {
            "values": [0, 10, 20, 30], "format": "d", "grid": false, "labelFlush": false,
            "domainColor": "black", "domainWidth": 1.5,
            "tickColor": "black", "tickWidth": 1.5, "tickSize": 13,
            "labelColor": "black", "labelFontSize": 16, "labelPadding": 3,
            "title": "Meters", "titleColor": "black", "titleFontSize": 21, "titleFontWeight": "normal",
            "titleX": 257, "titleY": 49, "titleBaseline": "alphabetic", "titleAlign": "center"
          }
        },
        "y": {
          "field": "y", "type": "quantitative",
          "scale": {"domain": [0, 4.44], "reverse": true, "nice": false, "zero": false},
          "axis": {
            "values": [0, 1, 2, 3, 4], "format": "d", "grid": false,
            "domainColor": "black", "domainWidth": 1.5,
            "tickColor": "black", "tickWidth": 1.5, "tickSize": 15,
            "labelColor": "black", "labelFontSize": 16, "labelPadding": 15, "labelFlush": false,
            "title": "Meters", "titleColor": "black", "titleFontSize": 21, "titleFontWeight": "normal",
            "titleX": -55, "titleY": 146.5, "titleBaseline": "alphabetic", "titleAlign": "center", "titleAngle": 270
          }
        },
        "detail": {"field": "c", "type": "nominal"},
        "order": {"value": null},
        "strokeWidth": {"condition": {"test": "datum.lv === -0.3", "value": 2}, "value": 1}
      }
    },
    {
      "data": {"name": "labels"},
      "mark": {"type": "text", "font": "Liberation Sans", "fontSize": 13, "stroke": "white", "strokeWidth": 3, "fill": "white", "align": "center", "baseline": "middle"},
      "encoding": {
        "x": {"field": "x", "type": "quantitative"},
        "y": {"field": "y", "type": "quantitative"},
        "text": {"field": "t"}
      }
    },
    {
      "data": {"name": "labels"},
      "mark": {"type": "text", "font": "Liberation Sans", "fontSize": 13, "fill": "black", "align": "center", "baseline": "middle"},
      "encoding": {
        "x": {"field": "x", "type": "quantitative"},
        "y": {"field": "y", "type": "quantitative"},
        "text": {"field": "t"}
      }
    }
  ]
}
